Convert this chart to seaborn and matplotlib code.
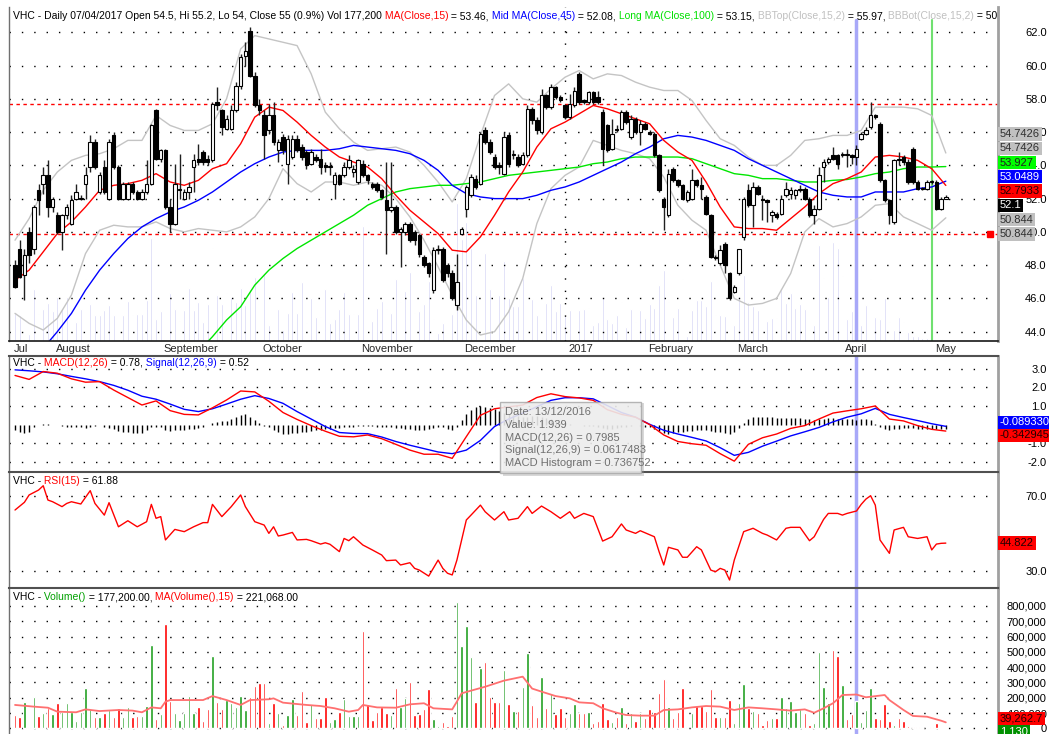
import numpy as np
import matplotlib
matplotlib.use('Agg')
import matplotlib.pyplot as plt
import matplotlib.transforms as mtrans
from matplotlib.patches import Rectangle
import seaborn as sns

#==============================================================================
# Data: VHC daily bars 20/07/2016 .. 08/05/2017 (one row = 10 sessions)
#==============================================================================
opens = [48.0, 49.0, 47.4, 50.0, 49.0, 52.5, 52.9, 53.4, 51.5, 51.0,
         50.0, 51.0, 50.5, 52.0, 52.0, 52.9, 53.9, 55.4, 52.4, 53.9,
         52.0, 55.8, 53.9, 52.0, 52.0, 52.9, 52.4, 52.0, 52.4, 52.9,
         57.3, 54.4, 54.9, 51.5, 50.5, 52.5, 52.0, 52.4, 53.9, 54.4,
         54.8, 54.4, 54.3, 57.8, 57.3, 56.2, 56.2, 57.3, 58.8, 60.6,
         62.1, 59.4, 57.6, 57.0, 56.1, 57.0, 54.9, 55.7, 54.1, 54.5,
         55.6, 55.1, 54.8, 54.1, 54.5, 54.4, 54.0, 53.9, 52.9, 53.4,
         53.4, 53.9, 53.6, 53.0, 54.1, 53.4, 52.9, 52.9, 52.5, 51.9,
         51.3, 51.5, 50.0, 50.0, 50.5, 50.0, 49.8, 48.5, 48.1, 46.5,
         48.9, 49.0, 48.0, 47.5, 45.6, 49.9, 51.4, 52.2, 53.2, 52.9,
         56.1, 55.4, 54.5, 54.0, 53.5, 55.8, 54.6, 54.5, 54.1, 54.6,
         57.4, 56.7, 56.0, 58.2, 57.5, 58.7, 58.1, 57.6, 56.9, 57.6,
         59.5, 57.9, 57.8, 58.4, 58.1, 57.2, 56.4, 55.0, 56.2, 56.2,
         57.2, 55.7, 56.8, 56.0, 56.5, 56.0, 55.9, 54.6, 52.0, 51.0,
         53.8, 53.1, 52.8, 51.9, 52.0, 53.1, 52.8, 52.1, 51.0, 48.5,
         48.1, 49.3, 47.5, 46.4, 47.5, 49.7, 52.5, 51.6, 52.7, 52.0,
         51.9, 51.0, 51.1, 51.1, 52.2, 52.3, 52.2, 52.5, 52.6, 52.0,
         51.0, 51.4, 53.9, 54.2, 54.6, 54.6, 54.6, 54.7, 54.6, 54.5,
         55.6, 55.9, 56.3, 57.0, 56.5, 53.1, 51.9, 50.6, 54.4, 54.5,
         54.2, 55.0, 53.0, 52.6, 52.6, 53.0, 53.0, 51.4, 52.0]
highs = [48.3, 49.5, 49.0, 50.3, 51.6, 52.9, 53.9, 54.3, 52.1, 51.2,
         51.1, 51.7, 52.2, 52.9, 52.2, 53.9, 55.8, 55.6, 53.6, 54.3,
         55.6, 56.0, 54.0, 53.0, 53.0, 53.0, 52.5, 52.6, 54.3, 56.5,
         57.4, 55.0, 55.0, 52.0, 54.1, 54.7, 52.6, 53.0, 54.7, 55.3,
         54.9, 54.6, 57.8, 58.7, 57.4, 57.0, 57.6, 59.0, 60.7, 61.4,
         62.3, 59.6, 58.0, 57.3, 57.7, 57.8, 55.6, 55.9, 55.8, 55.8,
         55.8, 55.3, 54.9, 55.0, 54.7, 55.0, 54.2, 54.2, 53.6, 53.5,
         54.2, 54.6, 54.0, 54.4, 54.3, 53.5, 53.0, 53.0, 52.6, 54.2,
         54.2, 51.6, 50.3, 50.6, 50.6, 50.1, 49.9, 48.6, 48.2, 49.1,
         49.2, 49.1, 48.1, 47.7, 48.7, 50.3, 52.8, 53.5, 53.4, 56.0,
         56.3, 55.6, 54.7, 54.2, 56.0, 56.0, 54.9, 54.7, 54.8, 57.6,
         57.5, 56.9, 58.6, 58.3, 58.9, 58.8, 58.2, 57.7, 58.3, 58.7,
         59.6, 58.0, 58.5, 58.5, 58.5, 57.4, 56.5, 56.8, 56.4, 57.3,
         57.3, 57.0, 56.9, 56.7, 56.6, 56.1, 56.0, 54.7, 52.1, 53.8,
         53.9, 53.2, 52.9, 52.5, 53.8, 53.2, 53.3, 52.2, 51.1, 48.6,
         49.2, 49.4, 47.6, 46.8, 49.0, 52.1, 52.9, 53.0, 52.8, 52.2,
         52.0, 51.3, 51.2, 52.2, 53.0, 52.7, 52.6, 52.8, 52.7, 52.1,
         51.6, 53.9, 54.4, 54.5, 55.1, 54.7, 54.8, 55.0, 54.7, 55.2,
         56.0, 56.3, 57.8, 57.1, 56.6, 53.2, 52.0, 54.4, 54.8, 54.6,
         54.4, 55.1, 53.1, 52.7, 53.1, 53.1, 53.1, 52.1, 52.2]
lows = [46.6, 47.2, 45.9, 48.1, 48.7, 51.0, 52.3, 50.9, 51.2, 49.9,
        48.9, 50.8, 50.4, 51.9, 51.9, 52.0, 53.6, 53.8, 52.3, 52.3,
        51.9, 53.8, 51.9, 51.9, 51.9, 52.3, 51.9, 51.9, 52.3, 52.8,
        54.3, 54.2, 51.4, 50.0, 50.4, 52.0, 51.9, 52.0, 52.4, 54.0,
        54.0, 54.0, 54.2, 57.3, 55.8, 56.1, 56.1, 57.2, 58.6, 60.0,
        59.3, 57.5, 57.0, 54.4, 55.9, 55.2, 54.2, 54.7, 52.9, 54.4,
        54.8, 54.3, 53.8, 54.0, 54.2, 53.5, 53.6, 53.4, 52.0, 52.8,
        53.3, 53.8, 53.3, 52.9, 53.3, 52.9, 52.6, 52.4, 52.0, 48.7,
        51.2, 49.9, 47.9, 49.8, 49.4, 49.2, 48.5, 47.9, 47.3, 46.3,
        48.7, 47.0, 47.3, 45.9, 45.3, 49.8, 50.9, 52.1, 52.6, 52.8,
        55.3, 54.7, 53.8, 53.5, 53.4, 53.9, 54.4, 53.9, 54.0, 54.5,
        56.5, 55.9, 55.9, 57.4, 57.4, 58.0, 57.8, 56.8, 56.8, 57.5,
        57.7, 57.7, 57.7, 57.7, 57.7, 54.0, 54.8, 54.9, 56.0, 56.1,
        56.5, 55.6, 55.9, 55.2, 56.1, 55.8, 54.5, 52.4, 50.1, 50.9,
        53.0, 52.7, 51.9, 51.8, 51.9, 52.7, 52.0, 51.0, 48.4, 48.3,
        48.0, 47.5, 45.9, 46.3, 47.4, 49.5, 51.5, 50.3, 52.2, 50.7,
        50.6, 50.6, 50.8, 51.0, 52.1, 52.0, 52.0, 52.4, 51.9, 50.9,
        50.5, 51.3, 53.0, 54.1, 54.3, 53.8, 54.5, 53.9, 54.1, 54.0,
        55.5, 55.8, 56.2, 56.8, 53.0, 51.8, 50.5, 50.5, 54.0, 54.0,
        52.9, 52.9, 52.5, 52.5, 52.5, 52.9, 51.3, 51.3, 52.0]
closes = [46.7, 47.3, 48.6, 48.6, 51.5, 51.9, 53.4, 51.5, 52.0, 50.0,
          51.0, 51.5, 51.9, 52.4, 52.0, 53.4, 55.4, 53.9, 53.4, 52.4,
          55.4, 53.9, 52.0, 52.9, 52.9, 52.4, 52.0, 52.4, 52.9, 56.4,
          54.4, 54.9, 51.5, 50.5, 52.9, 52.6, 52.4, 52.7, 54.3, 54.2,
          54.2, 54.2, 57.7, 57.6, 56.3, 56.8, 57.3, 58.8, 60.5, 60.9,
          59.4, 57.6, 57.3, 55.8, 57.0, 55.4, 55.4, 54.9, 55.6, 55.6,
          54.9, 54.5, 54.0, 54.8, 54.3, 53.9, 53.9, 53.9, 53.4, 52.9,
          53.9, 54.3, 53.8, 54.3, 53.4, 53.1, 52.7, 52.5, 52.1, 51.3,
          51.5, 50.0, 50.2, 50.5, 49.5, 49.5, 48.7, 48.0, 47.5, 48.9,
          48.9, 47.1, 47.5, 46.0, 47.0, 50.2, 52.7, 53.3, 52.7, 55.9,
          55.4, 54.8, 53.9, 53.9, 55.7, 54.1, 54.7, 54.0, 54.6, 57.4,
          56.7, 56.1, 58.2, 57.5, 58.7, 58.1, 57.9, 56.9, 57.7, 58.5,
          57.8, 57.8, 58.4, 57.8, 57.8, 55.0, 54.9, 55.9, 56.1, 57.2,
          56.6, 56.8, 56.0, 56.5, 56.2, 55.9, 54.6, 52.5, 51.5, 53.5,
          53.1, 52.8, 52.0, 52.4, 53.1, 52.8, 52.6, 51.1, 48.5, 48.4,
          48.9, 48.0, 46.0, 46.7, 49.0, 52.0, 51.6, 52.7, 52.3, 51.9,
          51.8, 51.2, 50.9, 52.0, 52.6, 52.5, 52.5, 52.6, 52.0, 51.0,
          51.4, 53.4, 54.2, 54.4, 54.4, 54.1, 54.7, 54.6, 54.5, 55.0,
          55.9, 56.1, 57.0, 56.9, 53.1, 51.9, 51.0, 54.3, 54.3, 54.2,
          53.0, 53.0, 52.6, 52.6, 53.0, 53.0, 51.4, 52.0, 52.1]
# volume in thousands of shares
volume_k = [87, 76, 174, 11, 203, 81, 102, 131, 92, 164,
            105, 164, 105, 48, 105, 262, 124, 76, 76, 98,
            120, 76, 131, 76, 142, 76, 81, 81, 148, 545,
            60, 94, 682, 181, 102, 54, 98, 211, 98, 137,
            48, 126, 473, 170, 124, 185, 164, 137, 211, 120,
            207, 277, 294, 294, 37, 164, 102, 22, 87, 190,
            87, 244, 44, 157, 70, 70, 203, 44, 59, 105,
            190, 81, 81, 81, 639, 159, 54, 109, 142, 102,
            87, 262, 137, 196, 305, 87, 94, 124, 255, 59,
            15, 44, 15, 81, 828, 541, 669, 469, 174, 397,
            436, 203, 174, 174, 382, 159, 116, 116, 272, 490,
            153, 76, 334, 131, 229, 94, 131, 76, 98, 159,
            98, 102, 109, 37, 50, 164, 59, 44, 76, 137,
            33, 102, 48, 98, 65, 126, 109, 229, 320, 137,
            70, 109, 266, 7, 98, 146, 146, 116, 255, 76,
            76, 72, 185, 37, 168, 288, 135, 116, 98, 22,
            54, 65, 65, 203, 131, 181, 109, 124, 102, 22,
            37, 497, 272, 164, 512, 473, 283, 59, 94, 177.2,
            39, 120, 262, 70, 59, 157, 50, 22, 70, 50,
            17, 7, 7, 4, 4, 7, 33, 2, 1.13]

# indicator lines read every 3rd session (0, 3, ..., 198)
ma15 = [47.1, 47.7, 48.8, 49.9, 50.6, 51.5, 52.5, 52.8, 52.9, 53.1,
        53.5, 53.0, 52.8, 53.1, 53.8, 54.1, 55.3, 56.9, 57.5, 57.3,
        56.6, 55.8, 55.1, 54.5, 54.2, 53.9, 53.2, 52.2, 51.3, 50.6,
        49.9, 48.9, 48.8, 49.7, 51.0, 52.4, 53.6, 55.1, 56.2, 56.6,
        57.1, 57.6, 57.4, 57.1, 56.8, 56.5, 55.5, 54.8, 54.3, 53.0,
        51.5, 50.3, 50.2, 50.2, 50.1, 50.8, 51.5, 52.3, 52.9, 53.2,
        53.6, 54.5, 54.6, 54.5, 54.3, 53.8, 52.7933]
ma45 = [40.8, 41.9, 43.0, 44.0, 45.1, 46.5, 47.7, 48.7, 49.6, 50.3,
        50.8, 51.2, 51.5, 51.9, 52.4, 53.0, 53.6, 54.1, 54.5, 54.8,
        54.9, 54.9, 54.9, 55.0, 55.2, 55.1, 55.0, 54.9, 54.7, 54.3,
        53.7, 52.8, 52.3, 52.1, 52.0, 52.0, 52.0, 52.2, 52.5, 52.7,
        53.0, 53.4, 53.8, 54.2, 54.7, 55.1, 55.6, 55.8, 55.7, 55.5,
        55.2, 54.9, 54.4, 54.0, 53.6, 53.2, 52.8, 52.4, 52.2, 52.1,
        52.1, 52.4, 52.4, 52.4, 52.6, 52.7, 53.0489]
nan = float('nan')
ma100 = [nan, nan, nan, nan, nan, nan, nan, nan, nan, nan,
         nan, nan, nan, 42.8, 43.7, 44.7, 45.5, 46.8, 47.7, 48.4,
         49.0, 49.5, 50.0, 50.5, 51.0, 51.6, 52.0, 52.4, 52.6, 52.7,
         52.8, 52.8, 52.9, 53.0, 53.2, 53.4, 53.5, 53.6, 53.7, 53.8,
         53.9, 54.1, 54.2, 54.4, 54.5, 54.5, 54.5, 54.5, 54.4, 54.1,
         53.8, 53.5, 53.4, 53.2, 53.2, 53.1, 53.0, 53.0, 53.1, 53.15,
         53.3, 53.5, 53.6, 53.8, 53.9, 53.9, 53.927]
bb_top = [49.5, 50.8, 52.5, 53.6, 54.3, 54.6, 54.7, 55.0, 55.5, 55.5,
          57.0, 56.4, 56.1, 56.1, 56.5, 58.0, 61.0, 61.8, 61.6, 61.4,
          61.2, 59.5, 57.2, 56.2, 55.4, 54.9, 55.0, 55.1, 54.8, 54.0,
          53.0, 51.8, 53.2, 55.8, 58.2, 58.9, 58.0, 57.8, 58.6, 59.3,
          59.7, 59.2, 59.5, 59.4, 59.0, 58.7, 58.5, 58.5, 57.9, 56.7,
          55.6, 55.2, 54.5, 54.0, 54.0, 54.6, 55.5, 55.6, 55.8, 55.8,
          56.1, 57.5, 57.5, 57.5, 57.4, 57.0, 54.7426]
bb_bot = [45.1, 44.5, 44.1, 44.8, 46.2, 48.7, 50.1, 50.4, 50.3, 50.3,
          50.6, 50.2, 50.0, 50.2, 50.1, 50.0, 50.3, 50.9, 52.0, 53.8,
          52.9, 52.4, 53.0, 53.0, 52.8, 53.0, 52.8, 52.0, 50.9, 49.5,
          47.9, 46.2, 44.7, 43.8, 44.0, 45.2, 47.2, 50.5, 52.6, 53.4,
          53.9, 55.5, 55.2, 54.9, 54.7, 54.4, 53.3, 51.6, 50.7, 50.1,
          48.0, 46.0, 45.6, 45.7, 46.0, 47.5, 50.0, 50.8, 50.3, 50.5,
          50.9, 51.6, 51.7, 50.9, 50.5, 50.1, 50.844]
macd = [2.63, 2.42, 2.84, 2.75, 2.45, 2.27, 2.30, 1.85, 1.45, 1.05,
        1.27, 0.75, 0.55, 0.52, 0.90, 1.32, 1.80, 1.75, 1.25, 0.65,
        0.28, -0.05, -0.35, -0.62, -0.65, -0.55, -0.75, -1.05, -1.36, -1.58,
        -1.58, -1.80, -0.64, 0.50, 0.85, 0.95, 1.05, 1.45, 1.65, 1.50,
        1.43, 1.30, 0.80, 0.55, 0.40, 0.00, -0.55, -0.90, -1.02, -1.10,
        -1.55, -1.95, -1.05, -0.70, -0.50, -0.20, -0.05, 0.30, 0.62, 0.74,
        0.85, 1.00, 0.30, 0.20, -0.05, -0.25, -0.342945]
signal = [2.93, 2.88, 2.82, 2.72, 2.58, 2.45, 2.30, 2.10, 1.84, 1.52,
          1.36, 1.10, 0.82, 0.70, 0.85, 1.10, 1.36, 1.55, 1.40, 1.14,
          0.70, 0.30, -0.10, -0.42, -0.47, -0.48, -0.66, -0.90, -1.10, -1.28,
          -1.46, -1.55, -1.36, -0.84, -0.10, 0.30, 0.62, 0.96, 1.30, 1.44,
          1.44, 1.38, 1.02, 0.65, 0.40, 0.02, -0.30, -0.50, -0.68, -0.87,
          -1.23, -1.64, -1.48, -1.15, -0.88, -0.60, -0.38, -0.15, 0.15, 0.40,
          0.58, 0.87, 0.55, 0.38, 0.22, 0.05, -0.089330]
macd_hist = [-0.30, -0.40, -0.45, -0.40, -0.10, -0.02, 0.02, 0.02, 0.00, -0.02,
             -0.05, -0.10, -0.12, -0.15, -0.15, -0.18, -0.12, -0.05, 0.00, -0.10,
             -0.20, -0.25, -0.35, -0.40, -0.40, -0.45, -0.45, -0.47, -0.30, -0.15,
             -0.10, -0.15, -0.30, -0.35, -0.30, -0.30, -0.27, -0.25, -0.22, -0.18,
             -0.10, 0.00, 0.08, 0.15, 0.20, 0.22, 0.30, 0.40, 0.50, 0.55,
             0.40, 0.25, 0.10, -0.05, -0.15, -0.30, -0.40, -0.50, -0.50, -0.45,
             -0.42, -0.40, -0.38, -0.35, -0.30, -0.28, -0.25, -0.22, -0.20, -0.18,
             -0.15, -0.10, -0.12, -0.05, -0.05, -0.06, -0.08, -0.10, -0.12, -0.15,
             -0.15, -0.16, -0.20, -0.22, -0.25, -0.27, -0.28, -0.30, -0.25, -0.18,
             -0.12, -0.15, -0.22, -0.28, -0.10, 0.25, 0.55, 0.80, 0.95, 1.00,
             0.95, 0.90, 0.85, 0.74, 0.60, 0.55, 0.50, 0.45, 0.40, 0.42,
             0.45, 0.45, 0.40, 0.35, 0.30, 0.20, 0.10, 0.05, 0.02, 0.00,
             -0.02, -0.05, -0.06, -0.08, -0.12, -0.18, -0.25, -0.25, -0.20, -0.15,
             -0.10, -0.05, -0.03, -0.05, -0.10, -0.15, -0.25, -0.35, -0.45, -0.50,
             -0.45, -0.40, -0.38, -0.35, -0.33, -0.30, -0.28, -0.30, -0.35, -0.38,
             -0.40, -0.45, -0.50, -0.40, -0.20, 0.10, 0.30, 0.40, 0.42, 0.43,
             0.42, 0.40, 0.38, 0.37, 0.35, 0.35, 0.34, 0.33, 0.30, 0.28,
             0.27, 0.30, 0.32, 0.33, 0.33, 0.32, 0.30, 0.30, 0.28, 0.26,
             0.28, 0.28, 0.25, 0.05, -0.15, -0.25, -0.27, -0.25, -0.22, -0.20,
             -0.20, -0.20, -0.22, -0.23, -0.24, -0.25, -0.25, -0.25, -0.25]

rsi_idx = [0, 2, 3, 5, 6, 7, 8, 10, 11, 12, 14, 16, 17, 19, 20, 22, 24, 26, 28, 29,
           30, 31, 32, 34, 36, 38, 40, 41, 42, 44, 46, 48, 49, 51, 53, 54, 55, 56, 57, 59,
           60, 62, 63, 65, 66, 67, 69, 70, 71, 72, 74, 76, 78, 79, 81, 82, 84, 85, 86, 88,
           90, 91, 92, 93, 94, 96, 97, 99, 100, 102, 104, 105, 107, 109, 110, 112, 114, 116, 118, 119,
           121, 123, 125, 127, 129, 130, 132, 133, 136, 137, 138, 139, 141, 142, 143, 145, 146, 148, 149, 150,
           151, 152, 153, 155, 157, 159, 160, 162, 164, 165, 167, 169, 170, 172, 173, 175, 176, 177, 179, 180,
           181, 182, 183, 184, 186, 187, 189, 190, 192, 194, 195, 196, 197, 198]
rsi = [62.4, 66.5, 70.4, 73.0, 75.3, 67.7, 66.8, 64.2, 65.9, 66.8, 65.6, 72.7, 65.9, 59.7, 66.3, 53.5, 56.7, 53.5, 56.2, 65.4,
       58.0, 58.9, 46.5, 52.1, 50.9, 53.5, 55.7, 55.7, 65.4, 58.9, 64.2, 70.4, 64.2, 56.2, 54.4, 50.0, 53.5, 48.6, 49.1, 50.5,
       46.5, 46.8, 46.1, 44.3, 45.0, 44.2, 40.3, 47.3, 46.1, 48.2, 43.8, 41.2, 38.5, 35.5, 35.8, 33.2, 34.4, 31.4, 30.5, 27.3,
       35.8, 31.4, 28.8, 27.9, 35.8, 57.1, 59.7, 65.0, 61.5, 57.1, 61.5, 57.1, 58.0, 64.2, 60.6, 64.5, 61.5, 58.0, 61.5, 58.0,
       60.6, 58.9, 45.9, 48.2, 55.0, 51.8, 50.0, 51.4, 48.2, 40.3, 33.2, 42.6, 41.2, 37.3, 37.3, 42.9, 41.2, 30.5, 29.6, 31.4,
       30.5, 25.2, 35.8, 50.9, 52.7, 50.0, 49.1, 46.5, 52.7, 53.2, 53.2, 46.1, 48.2, 57.4, 60.6, 60.6, 59.7, 60.6, 61.88, 65.4,
       68.2, 70.0, 65.0, 46.5, 39.4, 51.8, 53.2, 48.2, 47.3, 48.2, 41.2, 44.3, 44.7, 44.822]

vma_idx = [0, 4, 7, 9, 13, 15, 18, 22, 25, 27, 29, 31, 32, 33, 37, 40, 42, 45, 48, 50,
           54, 55, 57, 60, 62, 65, 68, 71, 73, 74, 77, 81, 84, 87, 89, 93, 94, 95, 98, 100,
           104, 108, 110, 112, 115, 118, 120, 123, 125, 128, 130, 133, 136, 138, 141, 144, 147, 150, 153, 156,
           159, 162, 165, 168, 170, 172, 174, 176, 179, 181, 185, 186, 189, 191, 194, 197, 198]
vma_k = [153, 142, 135, 109, 105, 124, 113, 120, 116, 105, 137, 131, 174, 185, 185, 185, 211, 185, 153, 185,
         190, 196, 168, 159, 153, 146, 131, 109, 120, 153, 137, 135, 157, 164, 131, 124, 175, 229, 255, 272,
         312, 338, 260, 240, 211, 196, 170, 164, 131, 102, 87, 83, 83, 120, 124, 137, 146, 142, 120, 137,
         131, 124, 116, 124, 102, 131, 164, 218, 221.068, 203, 218, 185, 120, 81, 76, 50, 39.2627]

month_names = ['Jul', 'August', 'September', 'October', 'November', 'December',
               '2017', 'February', 'March', 'April', 'May']
month_idx = [-1, 8, 31, 52, 73, 95, 117, 134, 153, 176, 195]
levels = [57.7, 49.9]          # red support / resistance lines
cursor_idx = 179               # 07/04/2017
marker_idx = 195

price_tags = [('54.7426', '#C0C0C0', '#303030'), ('54.7426', '#C0C0C0', '#303030'),
              ('53.927', '#00FF00', '#202020'), ('53.0489', '#0000FF', 'white'),
              ('52.7933', '#FF0000', '#200000'), ('52.1', 'black', 'white'),
              ('50.844', '#C0C0C0', '#303030'), ('50.844', '#C0C0C0', '#303030')]
macd_tags = [('-0.089330', '#0000FF', 'white'), ('-0.342945', '#FF0000', '#200000')]
rsi_tags = [('44.822', '#FF0000', '#200000')]
vol_tags = [('39,262.7', '#FF0000', '#200000'), ('1,130', '#009000', 'white')]

#==============================================================================
# Setup
#==============================================================================
sns.set_theme(style='white')
plt.rcParams['font.family'] = ['Liberation Sans', 'DejaVu Sans']
FS = 8          # ticks, tags, months
HFS = 7.5       # panel headers

assert len(opens) == len(highs) == len(lows) == len(closes) == len(volume_k) == len(macd_hist)
N = len(closes)
x = np.arange(N)
o, h, l, c = (np.array(a) for a in (opens, highs, lows, closes))
vol = np.array(volume_k) * 1000.0
up = c >= o
ln_idx = np.arange(0, N, 3)

W, H = 1049, 734
fig = plt.figure(figsize=(W / 100, H / 100), dpi=100)
fig.patch.set_facecolor('white')


def panel(top, bottom):
    return fig.add_axes([9 / W, 1 - bottom / H, (998 - 9) / W, (bottom - top) / H])


ax_p = panel(7, 341)
ax_m = panel(356, 472)
ax_r = panel(472, 588)
ax_v = panel(588, 734)
axes = [ax_p, ax_m, ax_r, ax_v]

ax_p.set_ylim(43.44, 63.52)
ax_m.set_ylim(-2.53, 3.67)
ax_r.set_ylim(20.97, 82.6)
ax_v.set_ylim(-37000, 917700)
px_per_unit = {ax_p: 16.63, ax_m: 18.7, ax_r: 1.8825, ax_v: 122.3 / 800000}

DOTS = (0, (1, 7.9))
for ax in axes:
    ax.set_xlim(-1.28, 209.1)
    ax.set_facecolor('white')
    for s in ax.spines.values():
        s.set_visible(False)
    ax.spines['left'].set_visible(True)
    ax.spines['left'].set_color('#707070')
    ax.spines['left'].set_linewidth(1)
    ax.spines['right'].set_visible(True)
    ax.spines['right'].set_color('#A0A0A0')
    ax.spines['right'].set_linewidth(2)
    ax.set_xlabel('')
    ax.set_ylabel('')
    ax.axvline(cursor_idx, color='#A8A8F8', lw=2.5, zorder=1.2,
               ymax=0.961 if ax is ax_p else 1)

for ax in (ax_m, ax_r, ax_v):
    ax.spines['top'].set_visible(True)
    ax.spines['top'].set_color('#505050')
    ax.spines['top'].set_linewidth(1.5)
    ax.set_xticks([])
ax_p.spines['bottom'].set_visible(True)
ax_p.spines['bottom'].set_color('#202020')


def line(ax, xs, ys, color, lw=1.0, z=2.5):
    xs = np.asarray(xs, float)
    ys = np.asarray(ys, float)
    m = ~np.isnan(ys)
    sns.lineplot(x=xs[m], y=ys[m], ax=ax, color=color, linewidth=lw, zorder=z, legend=False)


def right_ticks(ax, ticks, labels):
    ax.yaxis.tick_right()
    ax.set_yticks(ticks)
    ax.set_yticklabels(labels)
    ax.tick_params(axis='y', length=0, pad=35, labelsize=FS, colors='black')
    for t in ax.get_yticklabels():
        t.set_horizontalalignment('right')
    for v in ticks:
        ax.axhline(v, color='black', lw=1, ls=DOTS, zorder=1.5)


def header(ax, y_px, parts):
    t = ax.annotate(parts[0][0], xy=(0, 1), xycoords='axes fraction', xytext=(4, -y_px),
                    textcoords='offset pixels', ha='left', va='center', color=parts[0][1],
                    fontsize=HFS, clip_on=True, zorder=20)
    for s, col in parts[1:]:
        t = ax.annotate(s, xy=(1, 0), xycoords=t, ha='left', va='bottom', color=col,
                        fontsize=HFS, clip_on=True, zorder=20)


def tags(ax, items, gap_px=14.3):
    vals = [float(s.replace(',', '')) for s, _, _ in items]
    order = sorted(range(len(vals)), key=lambda k: -vals[k])
    g = gap_px / px_per_unit[ax]
    placed = []
    for k in order:
        placed.append(vals[k] if not placed else min(vals[k], placed[-1] - g))
    shift = np.mean([vals[k] for k in order]) - np.mean(placed)
    tr = mtrans.blended_transform_factory(ax.transAxes, ax.transData)
    for k, p in zip(order, placed):
        s, fc, tc = items[k]
        ax.text(1.002, p + shift, s, transform=tr, ha='left', va='center', fontsize=FS,
                color=tc, clip_on=False, zorder=30,
                bbox=dict(boxstyle='square,pad=0.15', fc=fc, ec='none'))


#==============================================================================
# Price panel
#==============================================================================
right_ticks(ax_p, np.arange(44, 63, 2), ['%.1f' % v for v in np.arange(44, 63, 2)])
ax_p.axvline(month_idx[month_names.index('2017')], color='black', lw=1, ls=DOTS, zorder=1.5)

# background volume
bg = 1.25 * np.array(volume_k) ** 0.7 / px_per_unit[ax_p]
ax_p.bar(x, bg, bottom=ax_p.get_ylim()[0], width=0.38, color='#D2D2F4', zorder=0.5)

for v in levels:
    ax_p.axhline(v, color='#FF0000', lw=1, ls=(0, (2.5, 2.5)), zorder=2.2)
ax_p.plot([ax_p.get_xlim()[1] - 1.7], [levels[-1]], 's', color='#FF0000', ms=4,
          zorder=6, clip_on=False)
ax_p.axvline(marker_idx, color='#70E070', lw=1.5, ymax=0.961, zorder=1.3)

line(ax_p, ln_idx, bb_top, '#C4C4C4')
line(ax_p, ln_idx, bb_bot, '#C4C4C4')
line(ax_p, ln_idx, ma100, '#00E600')
line(ax_p, ln_idx, ma45, '#0000FF')
line(ax_p, ln_idx, ma15, '#FF0000')

ax_p.vlines(x, l, h, color='#202020', lw=1, zorder=3)
ax_p.bar(x, np.maximum(np.abs(c - o), 0.05), bottom=np.minimum(o, c), width=0.74,
         color=np.where(up, 'white', 'black'), edgecolor='black', linewidth=0.8, zorder=4)

ax_p.set_xticks(month_idx[1:])
ax_p.tick_params(axis='x', length=4, width=1, direction='out', colors='#202020',
                 labelbottom=False)
for name, i in zip(month_names, month_idx):
    ax_p.annotate(name, xy=(i, 0), xycoords=('data', 'axes fraction'), xytext=(3, -8),
                  textcoords='offset pixels', ha='left', va='center', fontsize=FS,
                  annotation_clip=False)

header(ax_p, 9, [('VHC - Daily 07/04/2017 Open 54.5, Hi 55.2, Lo 54, Close 55 (0.9%) Vol 177,200', 'black'),
                 (' MA(Close,15)', '#FF0000'), (' = 53.46,', 'black'),
                 (' Mid MA(Close,45)', '#0000FF'), (' = 52.08,', 'black'),
                 (' Long MA(Close,100)', '#00E000'), (' = 53.15,', 'black'),
                 (' BBTop(Close,15,2)', '#C0C0C0'), (' = 55.97,', 'black'),
                 (' BBBot(Close,15,2)', '#C0C0C0'), (' = 50.844', 'black')])
tags(ax_p, price_tags)

#==============================================================================
# MACD panel
#==============================================================================
right_ticks(ax_m, [3, 2, 1, -1, -2], ['3.0', '2.0', '1.0', '-1.0', '-2.0'])
ax_m.vlines(x, 0, macd_hist, color='black', lw=1, zorder=2)
line(ax_m, ln_idx, signal, '#0000FF')
line(ax_m, ln_idx, macd, '#FF0000')
header(ax_m, 7, [('VHC -', 'black'), (' MACD(12,26)', '#FF0000'), (' = 0.78,', 'black'),
                 (' Signal(12,26,9)', '#0000FF'), (' = 0.52', 'black')])
tags(ax_m, macd_tags, 13)

#==============================================================================
# RSI panel
#==============================================================================
right_ticks(ax_r, [70, 30], ['70.0', '30.0'])
line(ax_r, rsi_idx, rsi, '#FF0000')
header(ax_r, 9, [('VHC -', 'black'), (' RSI(15)', '#FF0000'), (' = 61.88', 'black')])
tags(ax_r, rsi_tags)

#==============================================================================
# Volume panel
#==============================================================================
vt = np.arange(0, 800001, 100000)
right_ticks(ax_v, vt, ['{:,}'.format(v) for v in vt])
ax_v.bar(x, vol, width=0.52, color=np.where(up, '#1E9E1E', '#FF0000'), zorder=2)
line(ax_v, vma_idx, np.array(vma_k) * 1000, '#FF7070', lw=1.3, z=3)
header(ax_v, 9, [('VHC -', 'black'), (' Volume()', '#00A000'), (' = 177,200.00,', 'black'),
                 (' MA(Volume(),15)', '#FF0000'), (' = 221,068.00', 'black')])
tags(ax_v, vol_tags, 13)

#==============================================================================
# Tooltip
#==============================================================================
def fxy(px, py):
    return px / W, 1 - py / H


fig.patches.append(Rectangle(fxy(503, 476), 141 / W, 73 / H, transform=fig.transFigure,
                             fc='#909090', alpha=0.35, ec='none', zorder=30))
fig.patches.append(Rectangle(fxy(500, 473), 141 / W, 71 / H, transform=fig.transFigure,
                             fc='#F2F2F2', alpha=0.85, ec='#A8A8A8', lw=1, zorder=31))
tip = ['Date: 13/12/2016', 'Value: 1.939', 'MACD(12,26) = 0.7985',
       'Signal(12,26,9) = 0.0617483', 'MACD Histogram = 0.736752']
for k, s in enumerate(tip):
    fig.text(*fxy(505, 412 + 12.8 * k), s, color='#707070', fontsize=FS, va='center',
             ha='left', zorder=32)

fig.savefig('out.png', dpi=100, facecolor='white')
